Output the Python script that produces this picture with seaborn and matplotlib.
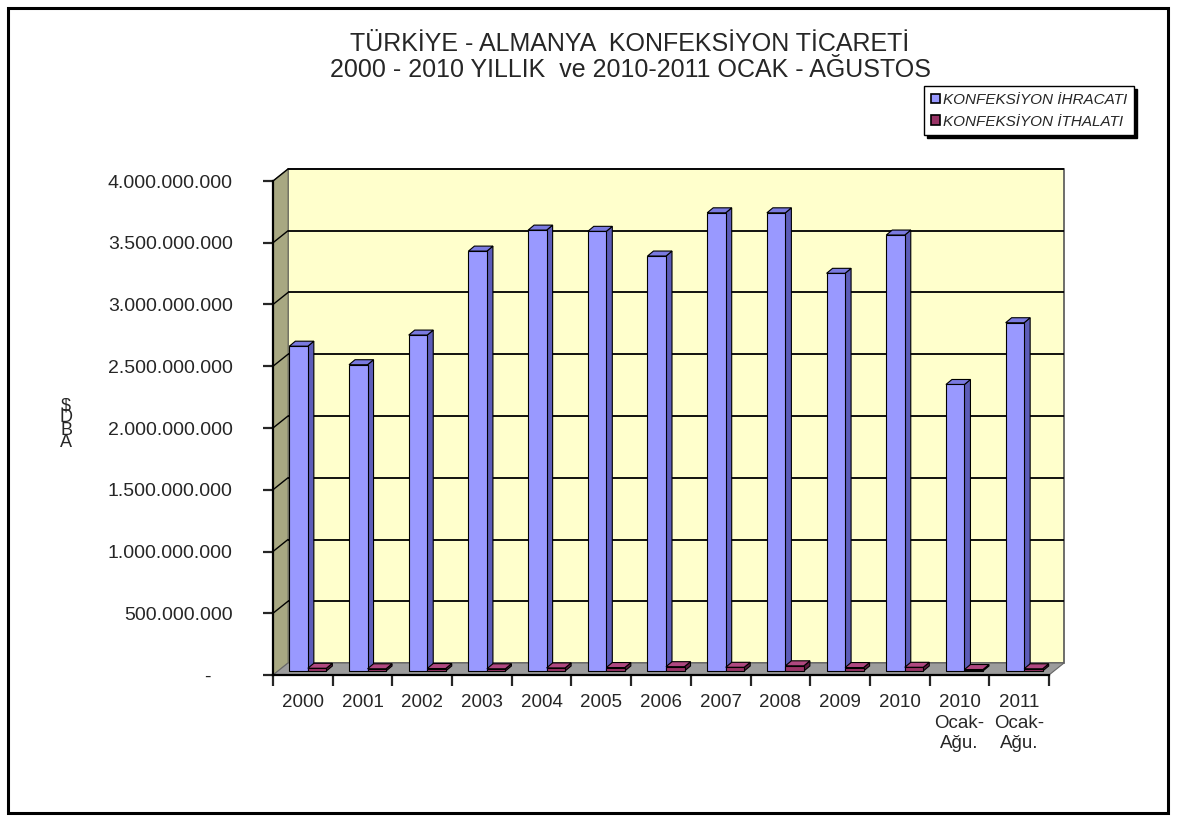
import numpy as np
import pandas as pd
from matplotlib import pyplot as plt
plt.switch_backend('agg')
from matplotlib.patches import Polygon, Rectangle
from matplotlib.lines import Line2D
from matplotlib.transforms import ScaledTranslation, IdentityTransform
import seaborn as sns

# data
years = ['2000', '2001', '2002', '2003', '2004', '2005', '2006', '2007', '2008',
         '2009', '2010', '2010\nOcak-\nAğu.', '2011\nOcak-\nAğu.']
ihracat = [2.63e9, 2.48e9, 2.72e9, 3.40e9, 3.57e9, 3.56e9, 3.36e9, 3.71e9, 3.71e9,
           3.22e9, 3.53e9, 2.32e9, 2.82e9]
ithalat = [22e6, 18e6, 20e6, 18e6, 25e6, 28e6, 35e6, 30e6, 42e6, 28e6, 30e6, 12e6, 18e6]
series = ['KONFEKSİYON İHRACATI', 'KONFEKSİYON İTHALATI']
yticks = [0, 5e8, 1e9, 1.5e9, 2e9, 2.5e9, 3e9, 3.5e9, 4e9]
title = 'TÜRKİYE - ALMANYA  KONFEKSİYON TİCARETİ\n2000 - 2010 YILLIK  ve 2010-2011 OCAK - AĞUSTOS'

front = ['#9999FF', '#993366']
side = ['#5C5CB8', '#5E1A3E']
top = ['#7A7AE0', '#B04880']

sns.set_style('white')
plt.rcParams['font.family'] = ['Liberation Sans', 'DejaVu Sans']

W, H = 1177, 821
fig = plt.figure(figsize=(W / 100, H / 100), dpi=100)
ax = fig.add_axes([273 / W, (H - 675) / H, 776 / W, 494 / H])

df = pd.DataFrame({'year': years * 2,
                   'value': ihracat + ithalat,
                   'series': [series[0]] * len(years) + [series[1]] * len(years)})
sns.barplot(data=df, x='year', y='value', hue='series', palette=front, width=0.62,
            saturation=1, edgecolor='black', linewidth=0.8, ax=ax, legend=False, zorder=3)
bars = [p for p in ax.patches]
ax.set_xlim(-0.5, 12.5)
ax.set_ylim(0, 4e9)
ax.patch.set_visible(False)

WALL = np.array([15, 12])   # back wall offset in pixels
BOFF = np.array([5, 4])     # bar front face offset
DEP = np.array([6, 5])      # bar depth


def shifted(dx, dy):
    return ax.transData + ScaledTranslation(dx / 100, dy / 100, fig.dpi_scale_trans)


def disp(x, y):
    return ax.transData.transform((x, y))


def poly(pts, **kw):
    p = Polygon(np.array(pts), closed=True, transform=IdentityTransform(), clip_on=False, **kw)
    ax.add_patch(p)
    return p


# walls and floor
ax.add_patch(Rectangle((-0.5, 0), 13, 4e9, transform=shifted(*WALL), facecolor='#FFFFCC',
                       edgecolor='#555555', lw=1.2, clip_on=False, zorder=0))
a, b = disp(-0.5, 0), disp(-0.5, 4e9)
poly([a, b, b + WALL, a + WALL], facecolor='#A8A882', edgecolor='#777766', lw=0.8, zorder=0.5)
e = disp(12.5, 0)
poly([a, e, e + WALL, a + WALL], facecolor='#9C9C9C', edgecolor='#666666', lw=0.8, zorder=0.6)

# gridlines on back wall + diagonals on left wall
for t in yticks[1:]:
    ax.hlines(t, -0.5, 12.5, transform=shifted(*WALL), color='black', lw=1.3, zorder=1, clip_on=False)
    p0 = disp(-0.5, t)
    ax.add_line(Line2D([p0[0], p0[0] + WALL[0]], [p0[1], p0[1] + WALL[1]], color='black', lw=1.0,
                       transform=IdentityTransform(), clip_on=False, zorder=1))

# 3D faces of the bars
for p in bars:
    fc = p.get_facecolor()
    k = 0 if np.allclose(fc[:3], plt.matplotlib.colors.to_rgb(front[0]), atol=0.05) else 1
    x0, w, h = p.get_x(), p.get_width(), p.get_height()
    p.set_transform(shifted(*BOFF))
    p.set_clip_on(False)
    p.set_zorder(3 + k)
    tl = disp(x0, h) + BOFF
    tr = disp(x0 + w, h) + BOFF
    br = disp(x0 + w, 0) + BOFF
    poly([br, br + DEP, tr + DEP, tr], facecolor=side[k], edgecolor='black', lw=0.8, zorder=2.9 + k)
    poly([tl, tr, tr + DEP, tl + DEP], facecolor=top[k], edgecolor='black', lw=0.8, zorder=2.95 + k)

# axes look
for s in ['top', 'right']:
    ax.spines[s].set_visible(False)
for s in ['left', 'bottom']:
    ax.spines[s].set_linewidth(1.6)
    ax.spines[s].set_color('black')
ylabels = ['-    '] + [f'{int(v):,}'.replace(',', '.') for v in yticks[1:]]
ax.set_yticks(yticks, ylabels)
ax.tick_params(axis='y', direction='out', length=7, width=1.6, pad=22, labelsize=14, left=True)
ax.set_xticks(range(len(years)), years)
ax.set_xticks(np.arange(-0.5, 13, 1), minor=True)
ax.tick_params(axis='x', which='major', length=0, pad=14, labelsize=13.5)
ax.tick_params(axis='x', which='minor', direction='out', length=8, width=1.6, bottom=True)
for lab in ax.get_xticklabels():
    lab.set_linespacing(1.25)
ax.set_xlabel('')
ax.set_ylabel('')

fig.text(66 / W, 1 - 424 / H, '$\nD\nB\nA', ha='center', va='center', fontsize=13, linespacing=0.62)
fig.text(630 / W, 1 - 57 / H, title, ha='center', va='center', fontsize=18, linespacing=1.1)

handles = [Rectangle((0, 0), 1, 1, facecolor=front[i], edgecolor='black', lw=1.2) for i in range(2)]
fig.legend(handles, series, loc='upper left', bbox_to_anchor=(924 / W, 1 - 86 / H),
           prop={'style': 'italic', 'size': 11}, frameon=True, fancybox=False,
           edgecolor='black', framealpha=1, shadow={'color': 'black', 'alpha': 1},
           handlelength=0.6, handleheight=0.6, handletextpad=0.2, borderpad=0.45,
           labelspacing=0.5, borderaxespad=0)

fig.add_artist(Rectangle((8 / W, 8 / H), 1160 / W, 805 / H, transform=fig.transFigure,
                         fill=False, edgecolor='black', lw=2.2))

fig.savefig('out.png', dpi=100)
